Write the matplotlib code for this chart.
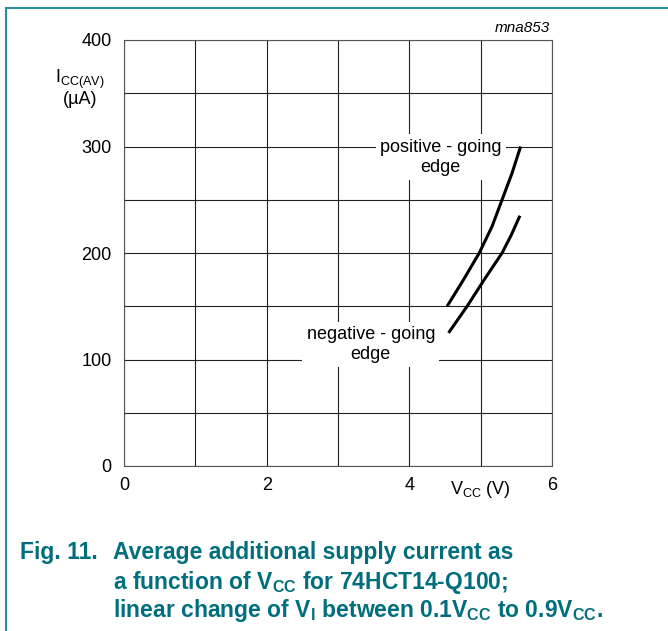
import matplotlib.pyplot as plt
from matplotlib.lines import Line2D

plt.rcParams['font.family'] = ['Liberation Sans', 'DejaVu Sans']
plt.rcParams['mathtext.fontset'] = 'custom'
plt.rcParams['mathtext.rm'] = 'Liberation Sans'

# data
pos_vcc = [4.53, 4.76, 4.98, 5.16, 5.30, 5.44, 5.56]
pos_icc = [150, 175, 200, 225, 250, 275, 300]
neg_vcc = [4.55, 4.81, 5.05, 5.30, 5.43, 5.55]
neg_icc = [125, 150, 175, 200, 217, 235]
xticks = [0, 2, 4, 6]
yticks = [0, 100, 200, 300, 400]

teal = '#006e7c'
fig = plt.figure(figsize=(6.68, 6.31), dpi=100)
ax = fig.add_axes([124/668, 1-466/631, 428/668, 426/631])

ax.set_xlim(0, 6)
ax.set_ylim(0, 400)
ax.set_xticks(range(0, 7))
ax.set_yticks(range(0, 401, 50))
ax.grid(True, color='#222222', linewidth=0.8)
ax.tick_params(length=0, labelsize=13)
ax.tick_params(axis='y', pad=9)
ax.tick_params(axis='x', pad=8)
ax.set_xticklabels([str(v) if v in xticks else '' for v in range(0, 7)])
ax.set_yticklabels([str(v) if v in yticks else '' for v in range(0, 401, 50)])
for s in ax.spines.values():
    s.set_color('#555555')
    s.set_linewidth(0.8)

ax.plot(pos_vcc, pos_icc, color='black', linewidth=2.2, solid_capstyle='butt')
ax.plot(neg_vcc, neg_icc, color='black', linewidth=2.2, solid_capstyle='butt')

box = dict(facecolor='white', edgecolor='none', pad=3)
ax.text(4.44, 290, 'positive - going\nedge', ha='center', va='center',
        fontsize=13, linespacing=1.25, bbox=box)
ax.text(3.46, 114, 'negative - going\nedge', ha='center', va='center',
        fontsize=13, linespacing=1.25, bbox=box)

fig.text(80/668, 1-88/631, r'I$_{\mathregular{CC(AV)}}$' + '\n(µA)', ha='center',
         va='center', fontsize=13, linespacing=1.05)
fig.text(480/668, 1-490/631, r'V$_{\mathregular{CC}}$ (V)', ha='center',
         va='center', fontsize=13)
fig.text(550/668, 1-28/631, 'mna853', ha='right', va='center',
         fontsize=11, style='italic')

fig.add_artist(Line2D([6/668, 1], [1-8/631, 1-8/631], color='#2a8d99', linewidth=1.5))
fig.add_artist(Line2D([6/668, 6/668], [0, 1-8/631], color='#2a8d99', linewidth=1.5))

fig.text(20/668, 1-553/631, 'Fig. 11.', fontsize=16.5, fontweight='bold',
         color=teal, va='center')
lines = ['Average additional supply current as',
         r'a function of V$_{\mathregular{CC}}$ for 74HCT14-Q100;',
         r'linear change of V$_{\mathregular{I}}$ between 0.1V$_{\mathregular{CC}}$ to 0.9V$_{\mathregular{CC}}$.']
for i, t in enumerate(lines):
    fig.text(113/668, 1-(553+29*i)/631, t, fontsize=16.5, fontweight='bold',
             color=teal, va='center')

fig.savefig('out.png', dpi=100)
